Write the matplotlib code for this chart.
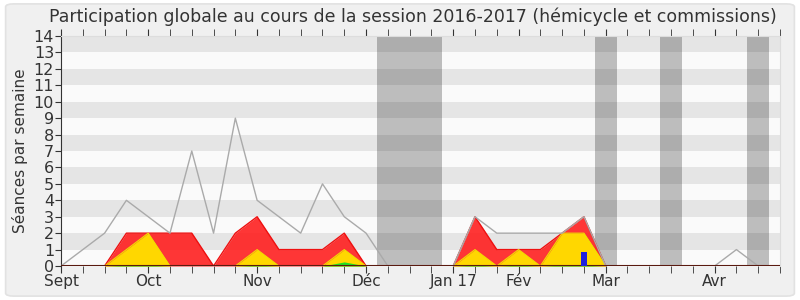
#!/usr/bin/env python3
"""Participation globale au cours de la session 2016-2017"""

import matplotlib
matplotlib.use("Agg")
import matplotlib.pyplot as plt
from matplotlib.patches import FancyBboxPatch

# semaines 0..33 (à partir de début septembre 2016)
weeks = list(range(34))
# séances totales (ligne grise)
total = [0, 1, 2, 4, 3, 2, 7, 2, 9, 4, 3, 2, 5, 3, 2, 0, 0, 0, 0, 3, 2, 2, 2, 2, 3, 0,
         0, 0, 0, 0, 0, 1, 0, 0]
# présences (rouge)
presence = [0, 0, 0, 2, 2, 2, 2, 0, 2, 3, 1, 1, 1, 2, 0, 0, 0, 0, 0, 3, 1, 1, 1, 2, 3, 0,
            0, 0, 0, 0, 0, 0, 0, 0]
# présences en commission (jaune)
commission = [0, 0, 0, 1, 2, 0, 0, 0, 0, 1, 0, 0, 0, 1, 0, 0, 0, 0, 0, 1, 0, 1, 0, 2, 2, 0,
              0, 0, 0, 0, 0, 0, 0, 0]
# interventions (vert)
interventions = [0, 0, 0, 0.05, 0.05, 0, 0, 0, 0, 0.05, 0, 0, 0, 0.25, 0, 0, 0, 0, 0, 0.05, 0,
                 0.05, 0, 0.05, 0.05, 0, 0, 0, 0, 0, 0, 0, 0, 0]
# questions orales (barre bleue)
questions_weeks = [24]
questions = [0.85]
# vacances parlementaires (semaines)
vacances = [(14.5, 17.5), (24.5, 25.5), (27.5, 28.5), (31.5, 32.5)]
# étiquettes des mois
month_pos = [0, 4, 9, 14, 18, 21, 25, 30]
month_labels = ["Sept", "Oct", "Nov", "Déc", "Jan 17", "Fév", "Mar", "Avr"]

fig = plt.figure(figsize=(8, 3), dpi=100)
fig.patch.set_facecolor("white")
fig.patches.append(FancyBboxPatch((0.007, 0.013), 0.986, 0.974,
                                  boxstyle="round,pad=0,rounding_size=0.01",
                                  transform=fig.transFigure, facecolor="#f0f0f0",
                                  edgecolor="#e2e2e2", linewidth=1.2, zorder=-1))

ax = fig.add_axes([0.0763, 0.1133, 0.8987, 0.7667])
ax.set_facecolor("#fafafa")

# bandes horizontales
for y in range(1, 14, 2):
    ax.axhspan(y, y + 1, color="#e5e5e5", zorder=0, lw=0)

# vacances
for a, b in vacances:
    ax.axvspan(a, b, color="black", alpha=0.245, zorder=1, lw=0)

ax.fill_between(weeks, presence, color="#ff2020", alpha=0.9, zorder=3, lw=0)
ax.plot(weeks, presence, color="#ee1010", lw=1, zorder=3)
ax.fill_between(weeks, commission, color="#ffd700", zorder=4, lw=0)
ax.plot(weeks, commission, color="#f0e000", lw=0.8, zorder=4)
ax.fill_between(weeks, interventions, color="#22dd22", zorder=5, lw=0)
ax.plot(weeks, total, color="#aaaaaa", lw=1, zorder=6)
ax.axhline(0, color="#5a1a10", lw=1.5, zorder=7)
ax.bar(questions_weeks, questions, width=0.28, color="#2020dd", zorder=7)

ax.set_xlim(0, 33)
ax.set_ylim(0, 14)
ax.set_yticks(range(15))
ax.set_xticks(weeks, minor=True)
ax.set_xticks(month_pos)
ax.set_xticklabels(month_labels)
ax.tick_params(axis="x", which="both", length=5, color="#333333", top=True,
               direction="out", labelsize=11, labelcolor="#333333", pad=1)
ax.tick_params(axis="x", which="both", top=True, labeltop=False)
ax.tick_params(axis="y", length=4, color="#333333", labelsize=11.5,
               labelcolor="#333333", pad=1)
ax.set_ylabel("Séances par semaine", fontsize=11, color="#333333", labelpad=4)

for side in ["top", "right"]:
    ax.spines[side].set_color("#dddddd")
ax.spines["left"].set_color("#333333")
ax.spines["bottom"].set_visible(False)

fig.text(0.516, 0.925, "Participation globale au cours de la session 2016-2017 (hémicycle et commissions)",
         ha="center", fontsize=12.5, color="#333333")

plt.savefig("out.png", dpi=100)
